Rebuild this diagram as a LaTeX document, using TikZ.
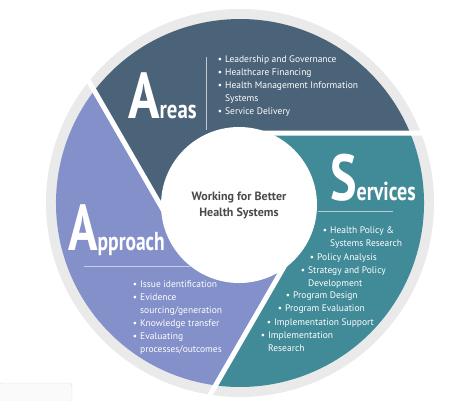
\documentclass[tikz,border=0pt]{standalone}
\usepackage{fontspec}
\setmainfont{PT Sans}
\definecolor{areasc}{HTML}{4B6378}
\definecolor{servc}{HTML}{418A98}
\definecolor{apprc}{HTML}{8390C9}
\definecolor{ringc}{HTML}{EAEAEA}
\definecolor{hubtext}{HTML}{4A4A4A}
\newcommand{\initial}[3][0.8]{\scalebox{#1}[1]{\fontsize{65}{65}\selectfont #2}\scalebox{#1}[1]{\fontsize{26}{26}\selectfont #3}}
\newcommand{\bul}{\llap{\textbullet\hspace{3pt}}}
\tikzset{
  heading/.style={white,font=\bfseries,inner sep=0pt,anchor=base west},
  listitem/.style={white,font=\fontsize{9.5}{13}\selectfont,inner sep=0pt,anchor=north west,align=left},
  divider/.style={line width=0.8pt}
}
\begin{document}
\begin{tikzpicture}[x=1pt,y=1pt]
\useasboundingbox (-240,-197) rectangle (233,203);
% grey ring behind the three parts
\fill[ringc] (0,0) circle[radius=194];
% the three parts, cut by lines tangent to the hub
\fill[areasc] (210:70) -- (142.36:184) arc[start angle=142.36,end angle=22.36,radius=184] -- (90:70) -- (0,0) -- cycle;
\fill[servc] (90:70) -- (22.36:184) arc[start angle=22.36,end angle=-97.64,radius=184] -- (330:70) -- (0,0) -- cycle;
\fill[apprc] (330:70) -- (262.36:184) arc[start angle=262.36,end angle=142.36,radius=184] -- (210:70) -- (0,0) -- cycle;
% white gaps
\foreach \t/\e in {90/20.49,210/140.49,330/260.49}
  \draw[white,line width=5pt] (\t:70) -- (\e:200);
% hub
\node[circle,fill=white,minimum size=156pt,inner sep=0pt,align=center,text=hubtext,
  font=\fontsize{12}{16}\selectfont\bfseries] (hub) at (-1,-2) {Working for Better\\Health Systems};

% Areas
\node[heading] (areas) at (-112,85) {\initial{A}{reas}};
\coordinate (areastop) at (-34,146);
\coordinate (areasbot) at (-34,73);
\draw[divider,white!65!areasc] (areastop) -- (areasbot);
\node[listitem] (a1) at (-15,147) {\bul Leadership and Governance};
\node[listitem] (a2) at (-15,134) {\bul Healthcare Financing};
\node[listitem] (a3) at (-15,121) {\bul Health Management Information\\Systems};
\node[listitem] (a4) at (-15,95) {\bul Service Delivery};

% Services
\node[heading] (serv) at (90,3) {\initial[0.77]{S}{ervices}};
\coordinate (servl) at (78,-8);
\coordinate (servr) at (153,-8);
\draw[divider,white!60!servc] (servl) -- (servr);
\node[listitem] (s1) at (90,-24) {\bul Health Policy \&\\Systems Research};
\node[listitem] (s2) at (77,-51) {\bul Policy Analysis};
\node[listitem] (s3) at (68,-64) {\bul Strategy and Policy\\Development};
\node[listitem] (s4) at (53,-89) {\bul Program Design};
\node[listitem] (s5) at (45,-102) {\bul Program Evaluation};
\node[listitem] (s6) at (34,-116) {\bul Implementation Support};
\node[listitem] (s7) at (28,-129) {\bul Implementation\\Research};

% Approach
\node[heading] (appr) at (-172,-47) {\initial[0.75]{A}{pproach}};
\coordinate (apprl) at (-156,-63);
\coordinate (apprr) at (-50,-63);
\draw[divider,white!55!apprc] (apprl) -- (apprr);
\node[listitem] (p1) at (-100,-78) {\bul Issue identification};
\node[listitem] (p2) at (-100,-91) {\bul Evidence\\sourcing/generation};
\node[listitem] (p3) at (-100,-117) {\bul Knowledge transfer};
\node[listitem] (p4) at (-100,-130) {\bul Evaluating\\processes/outcomes};

% corner of a box at the lower left
\draw[gray!25,fill=gray!4,rounded corners=3pt] (-241,-200) rectangle (-168,-180);
\end{tikzpicture}
\end{document}
